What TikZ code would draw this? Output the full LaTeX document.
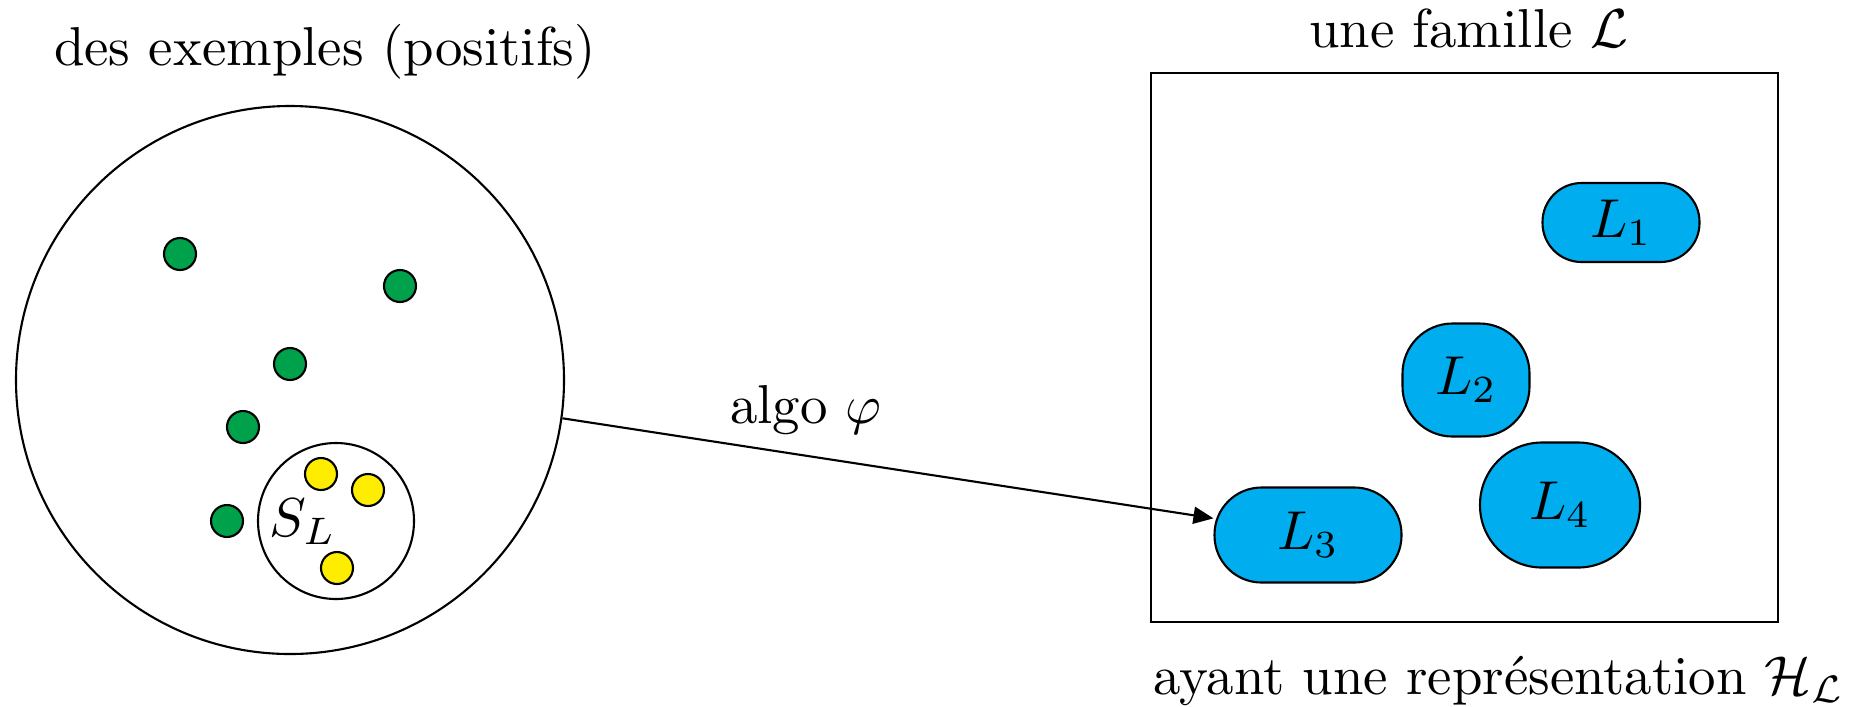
\documentclass[tikz,border=0pt]{standalone}
\usepackage{fontspec}
\usetikzlibrary{arrows.meta}
\definecolor{dotgreen}{RGB}{0,161,75}
\definecolor{dotyellow}{RGB}{255,237,0}
\definecolor{langblue}{RGB}{0,174,239}
\newcommand{\lbl}[1]{\scalebox{1.56}{#1}}
\begin{document}
\begin{tikzpicture}[line width=0.6pt,
  gdot/.style={circle,draw,fill=dotgreen,inner sep=0pt,minimum size=0.32cm},
  ydot/.style={circle,draw,fill=dotyellow,inner sep=0pt,minimum size=0.32cm},
  lang/.style={rectangle,draw,fill=langblue,inner sep=0pt,rounded corners=#1},
]
\useasboundingbox (0,0) rectangle (18.51,7.06);
% ---------------- examples (left) ----------------
\node[anchor=base] (extitle) at (3.25,6.41) {\lbl{des exemples (positifs)}};
\node[circle,draw,inner sep=0pt,minimum size=5.48cm] (ex) at (2.90,3.26) {};
\node[gdot] (g1) at (1.80,4.52) {};
\node[gdot] (g2) at (4.00,4.20) {};
\node[gdot] (g3) at (2.90,3.42) {};
\node[gdot] (g4) at (2.43,2.79) {};
\node[gdot] (g5) at (2.27,1.85) {};
\node[circle,draw,inner sep=0pt,minimum size=1.56cm] (S) at (3.36,1.85) {};
\node[ydot] (y1) at (3.21,2.32) {};
\node[ydot] (y2) at (3.68,2.16) {};
\node[ydot] (y3) at (3.37,1.38) {};
\node (SL) at (3.03,1.84) {\lbl{$S_L$}};

% ---------------- family (right) ----------------
\node[anchor=base] (famtitle) at (14.69,6.59) {\lbl{une famille $\mathcal{L}$}};
\node[rectangle,draw,inner sep=0pt,minimum width=6.27cm,minimum height=5.49cm] (fam) at (14.645,3.585) {};
\node[lang=0.39cm,minimum width=1.57cm,minimum height=0.79cm] (L1) at (16.21,4.835) {\lbl{$L_1$}};
\node[lang=0.50cm,minimum width=1.27cm,minimum height=1.13cm] (L2) at (14.66,3.26) {\lbl{$L_2$}};
\node[lang=0.47cm,minimum width=1.87cm,minimum height=0.95cm] (L3) at (13.08,1.71) {\lbl{$L_3$}};
\node[lang=0.62cm,minimum width=1.60cm,minimum height=1.25cm] (L4) at (15.60,2.01) {\lbl{$L_4$}};
\node[anchor=base] (famrep) at (14.99,0.12) {\lbl{ayant une représentation $\mathcal{H}_{\mathcal{L}}$}};

% ---------------- algorithm ----------------
\node[anchor=base] (algo) at (8.06,2.83) {\lbl{algo $\varphi$}};
\draw[-{Triangle[length=2mm,width=1.7mm]}] (ex.-8.5) -- (L3.170);
\end{tikzpicture}
\end{document}
